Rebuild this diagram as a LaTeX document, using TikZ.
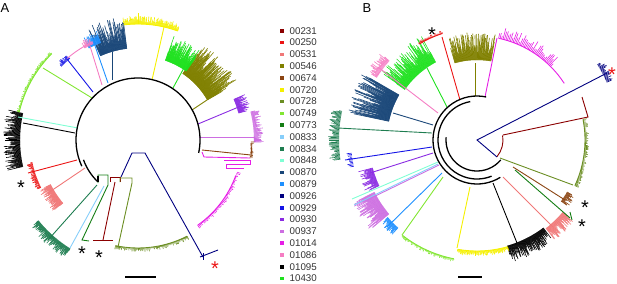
\documentclass[tikz,border=0pt]{standalone}
\usepackage{fontspec}
\setmainfont{Liberation Sans}

\definecolor{c00231}{RGB}{139,0,0}
\definecolor{c00250}{RGB}{235,20,20}
\definecolor{c00531}{RGB}{240,120,120}
\definecolor{c00546}{RGB}{128,128,0}
\definecolor{c00674}{RGB}{139,69,19}
\definecolor{c00720}{RGB}{245,240,0}
\definecolor{c00728}{RGB}{107,142,35}
\definecolor{c00749}{RGB}{130,230,50}
\definecolor{c00773}{RGB}{20,125,20}
\definecolor{c00833}{RGB}{135,206,250}
\definecolor{c00834}{RGB}{30,125,80}
\definecolor{c00848}{RGB}{127,255,212}
\definecolor{c00870}{RGB}{25,70,120}
\definecolor{c00879}{RGB}{30,144,255}
\definecolor{c00926}{RGB}{0,0,128}
\definecolor{c00929}{RGB}{20,20,230}
\definecolor{c00930}{RGB}{138,43,226}
\definecolor{c00937}{RGB}{205,110,225}
\definecolor{c01014}{RGB}{230,30,230}
\definecolor{c01086}{RGB}{245,125,195}
\definecolor{c01095}{RGB}{0,0,0}
\definecolor{c10430}{RGB}{30,225,30}

\tikzset{
  branch/.style={line width=0.9pt},
  spine/.style={line width=1.3pt, black},
  twig/.style={line width=0.6pt},
  keybox/.style={minimum size=3.6bp, inner sep=0pt},
  keytext/.style={anchor=west, inner sep=0pt, text=black!80, font=\fontsize{9.8}{10}\selectfont},
  panel/.style={inner sep=0pt, font=\fontsize{13}{13}\selectfont},
  starmark/.style={anchor=base, inner sep=0pt, font=\fontsize{20}{20}\selectfont},
}

% tips of a clade, fanned round a centre: colour, centre, from, to, inner r, outer r, count
\newcommand{\tipfan}[7]{%
  \foreach \k in {0,...,#7}{%
    \pgfmathsetmacro{\ta}{-((#3)+((#4)-(#3))*\k/(#7))}%
    \pgfmathsetmacro{\tr}{(#5)+((#6)-(#5))*(0.25+0.75*rnd)}%
    \draw[twig,#1] ([shift={(\ta:#5)}]#2) -- ([shift={(\ta:\tr)}]#2);
  }}
% arc round a centre: style, centre, from, to, radius
\newcommand{\cladearc}[5]{%
  \pgfmathsetmacro{\ra}{-(#3)}\pgfmathsetmacro{\rb}{-(#4)}%
  \draw[#1] ([shift={(\ra:#5)}]#2) arc[start angle=\ra, end angle=\rb, radius=#5];}

\begin{document}
\begin{tikzpicture}[x=1bp, y=-1bp]
  \useasboundingbox (0,0) rectangle (617,283);
  \pgfmathsetseed{11}
  \coordinate (cA) at (138,140);
  \coordinate (cB) at (477,140);

  \node[panel] (labA) at (5,8) {A};
  \node[panel] (labB) at (367,8) {B};

  % panel A, tips
  \tipfan{c00937}{cA}{-1}{14}{116}{126}{60}
  \tipfan{c00930}{cA}{15}{23}{104}{118}{36}
  \tipfan{c00546}{cA}{30}{56}{80}{116}{130}
  \tipfan{c10430}{cA}{55}{71}{84}{110}{80}
  \tipfan{c00720}{cA}{70}{97}{116}{124}{110}
  \tipfan{c00870}{cA}{97}{114}{92}{124}{90}
  \tipfan{c00879}{cA}{111}{118}{104}{117}{30}
  \tipfan{c01086}{cA}{115}{120}{106}{114}{16}
  \tipfan{c00929}{cA}{130}{136}{106}{112}{14}
  \tipfan{c00749}{cA}{135}{167}{122}{125}{80}
  \tipfan{c01095}{cA}{167}{193}{118}{135}{120}
  \tipfan{c00250}{cA}{192}{206}{108}{114}{40}
  \tipfan{c00531}{cA}{207}{220}{98}{112}{60}
  \tipfan{c00834}{cA}{219}{238}{128}{139}{90}
  \tipfan{c00728}{cA}{258}{297}{108}{112}{70}
  \tipfan{c01014}{cA}{-55}{-18}{104}{108}{50}
  \tipfan{c00674}{cA}{-9}{-1}{113}{117}{12}
  \draw[twig,c00720] ([shift={(-90:116)}]cA) -- ([shift={(-90:127)}]cA);

  % panel A, branches
  \begin{scope}[branch]
    \cladearc{c00720}{cA}{70}{97}{116}
    \cladearc{c01086}{cA}{117}{131}{108}
    \cladearc{c00749}{cA}{135}{167}{122}
    \cladearc{c00728}{cA}{258}{297}{108}
    \cladearc{c01014}{cA}{-55}{-20}{104}
    \draw[c00937] (199,137) -- (255,137);
    \draw[c00930] (198,124) -- (241,106);
    \draw[c00546] (192,110) -- (207,100);
    \draw[c10430] (173,88) -- (185,66);
    \draw[c00720] (152,80) -- (164,27);
    \draw[c00870] (112,80) -- (112,52);
    \draw[c00879] (108,83) -- (93,40);
    \draw[c01086] (102,85) -- (90,46);
    \draw[c00929] (93,92) -- (67,59);
    \draw[c00749] (92,98) -- (43,68);
    \draw[c00848] (78,128) -- (18,117);
    \draw[c01095] (75,133) -- (23,123);
    \draw[c00250] (77,160) -- (28,173);
    \draw[c00531] (85,168) -- (48,193);
    \draw[c00834] (97,185) -- (48,240);
    \draw[c00833] (104,186) -- (70,248);
    \draw[c00773] (98,183) -- (98,175) -- (108,175) -- (108,185) -- (82,240) -- (89,241);
    \draw[c00231] (110,182) -- (110,177) -- (120,177) -- (120,182);
    \draw[c00231] (115,182) -- (103,240);
    \draw[c00231] (93,240) -- (113,240);
    \draw[c00728] (120,182) -- (120,178) -- (132,178) -- (132,183) -- (118,247);
    \draw[c00926] (121,177) -- (132,153) -- (145,153) -- (203,257);
    \draw[c00926] (200,257) -- (218,250);
    \draw[c00926] (203,253) -- (203,260);
    \draw[c00674] (202,150) -- (251,155);
    \draw[c00674] (251,143) -- (252,158);
    \draw[c01014] (202,152) -- (204,157) -- (250,158);
    \draw[c01014, line width=0.6pt] (224,160) -- (250,160) -- (250,164) -- (226,164) -- (226,168) -- (244,168);
  \end{scope}
  % panel A, backbone
  \cladearc{spine}{cA}{-12}{205}{62}
  \cladearc{spine}{cA}{200}{226}{58}
  \draw[spine] (98,182) -- (98,176);

  % panel B, tips
  \tipfan{c00926}{cB}{24}{32}{142}{150}{20}
  \tipfan{c00728}{cB}{-25}{11}{108}{112}{70}
  \tipfan{c00674}{cB}{-36}{-30}{104}{114}{20}
  \tipfan{c00531}{cB}{-52}{-40}{112}{127}{50}
  \tipfan{c01095}{cB}{-74}{-53}{110}{127}{90}
  \tipfan{c00720}{cB}{260}{286}{111}{116}{90}
  \tipfan{c00749}{cB}{232}{259}{121}{124}{60}
  \tipfan{c00879}{cB}{221}{228}{118}{128}{26}
  \tipfan{c00937}{cB}{207}{220}{115}{140}{60}
  \tipfan{c00930}{cB}{195}{205}{108}{124}{40}
  \tipfan{c00929}{cB}{186}{192}{126}{132}{10}
  \tipfan{c00834}{cB}{168}{188}{138}{149}{60}
  \tipfan{c00870}{cB}{150}{168}{90}{133}{90}
  \tipfan{c01086}{cB}{138}{148}{118}{130}{30}
  \tipfan{c10430}{cB}{118}{145}{88}{118}{100}
  \tipfan{c00250}{cB}{108}{121}{112}{115}{24}
  \tipfan{c00546}{cB}{80}{106}{80}{108}{110}
  \tipfan{c01014}{cB}{45}{78}{104}{116}{40}

  % panel B, branches
  \begin{scope}[branch]
    \cladearc{c00231}{cB}{-40}{10}{26}
    \cladearc{c00728}{cB}{-25}{11}{108}
    \cladearc{c00720}{cB}{260}{286}{111}
    \cladearc{c00749}{cB}{232}{259}{121}
    \cladearc{c00250}{cB}{108}{121}{112}
    \cladearc{c01014}{cB}{33}{78}{104}
    \draw[c00926] (497,157) -- (477,140) -- (607,73);
    \draw[c00231] (503,135) -- (588,117) -- (582,97);
    \draw[c00728] (500,158) -- (573,185);
    \draw[c00674] (513,167) -- (565,200);
    \draw[c00773] (515,170) -- (570,218);
    \draw[c00773] (570,212) -- (572,220);
    \draw[c00531] (503,177) -- (553,227);
    \draw[c01095] (493,183) -- (517,243);
    \draw[c00720] (470,187) -- (457,248);
    \draw[c00749] (443,177) -- (402,235);
    \draw[c00879] (442,173) -- (387,227);
    \draw[c00937] (439,165) -- (367,200);
    \draw[c00848] (438,162) -- (352,199);
    \draw[c00833] (438,164) -- (354,205);
    \draw[c00930] (433,153) -- (370,173);
    \draw[c00929] (432,147) -- (345,160);
    \draw[c00834] (432,133) -- (338,128);
    \draw[c00870] (433,125) -- (393,113);
    \draw[c01086] (438,113) -- (378,67);
    \draw[c10430] (447,107) -- (427,68);
    \draw[c00250] (460,100) -- (442,37);
    \draw[c00546] (475,96) -- (475,63);
    \draw[c01014] (485,97) -- (497,38);
  \end{scope}
  % panel B, backbone
  \cladearc{spine}{cB}{78}{302}{44}
  \cladearc{spine}{cB}{100}{292}{39}
  \cladearc{spine}{cB}{175}{320}{31}

  % marked strains
  \node[starmark] (sA1) at (21,194.8) {*};
  \node[starmark] (sA2) at (82,260.8) {*};
  \node[starmark] (sA3) at (99,264.8) {*};
  \node[starmark, text=c00250] (sA4) at (215,275.8) {*};
  \node[starmark] (sB1) at (432,41.8) {*};
  \node[starmark, text=c00250] (sB2) at (612,81.8) {*};
  \node[starmark] (sB3) at (585,214.8) {*};
  \node[starmark] (sB4) at (582,233.8) {*};

  % scale bars
  \draw[line width=1.2bp] (125,277) -- (156,277);
  \draw[line width=1.2bp] (458,277) -- (482,277);

  % key
  \node[keybox, fill=c00231] (m00231) at (282,30.8) {};  \node[keytext] (k00231) at (289.5,30.8) {00231};
  \node[keybox, fill=c00250] (m00250) at (282,42.6) {};  \node[keytext] (k00250) at (289.5,42.6) {00250};
  \node[keybox, fill=c00531] (m00531) at (282,54.4) {};  \node[keytext] (k00531) at (289.5,54.4) {00531};
  \node[keybox, fill=c00546] (m00546) at (282,66.2) {};  \node[keytext] (k00546) at (289.5,66.2) {00546};
  \node[keybox, fill=c00674] (m00674) at (282,78.0) {};  \node[keytext] (k00674) at (289.5,78.0) {00674};
  \node[keybox, fill=c00720] (m00720) at (282,89.8) {};  \node[keytext] (k00720) at (289.5,89.8) {00720};
  \node[keybox, fill=c00728] (m00728) at (282,101.6) {}; \node[keytext] (k00728) at (289.5,101.6) {00728};
  \node[keybox, fill=c00749] (m00749) at (282,113.4) {}; \node[keytext] (k00749) at (289.5,113.4) {00749};
  \node[keybox, fill=c00773] (m00773) at (282,125.2) {}; \node[keytext] (k00773) at (289.5,125.2) {00773};
  \node[keybox, fill=c00833] (m00833) at (282,137.0) {}; \node[keytext] (k00833) at (289.5,137.0) {00833};
  \node[keybox, fill=c00834] (m00834) at (282,148.8) {}; \node[keytext] (k00834) at (289.5,148.8) {00834};
  \node[keybox, fill=c00848] (m00848) at (282,160.6) {}; \node[keytext] (k00848) at (289.5,160.6) {00848};
  \node[keybox, fill=c00870] (m00870) at (282,172.4) {}; \node[keytext] (k00870) at (289.5,172.4) {00870};
  \node[keybox, fill=c00879] (m00879) at (282,184.2) {}; \node[keytext] (k00879) at (289.5,184.2) {00879};
  \node[keybox, fill=c00926] (m00926) at (282,196.0) {}; \node[keytext] (k00926) at (289.5,196.0) {00926};
  \node[keybox, fill=c00929] (m00929) at (282,207.8) {}; \node[keytext] (k00929) at (289.5,207.8) {00929};
  \node[keybox, fill=c00930] (m00930) at (282,219.6) {}; \node[keytext] (k00930) at (289.5,219.6) {00930};
  \node[keybox, fill=c00937] (m00937) at (282,231.4) {}; \node[keytext] (k00937) at (289.5,231.4) {00937};
  \node[keybox, fill=c01014] (m01014) at (282,243.2) {}; \node[keytext] (k01014) at (289.5,243.2) {01014};
  \node[keybox, fill=c01086] (m01086) at (282,255.0) {}; \node[keytext] (k01086) at (289.5,255.0) {01086};
  \node[keybox, fill=c01095] (m01095) at (282,266.8) {}; \node[keytext] (k01095) at (289.5,266.8) {01095};
  \node[keybox, fill=c10430] (m10430) at (282,278.6) {}; \node[keytext] (k10430) at (289.5,278.6) {10430};
\end{tikzpicture}
\end{document}
